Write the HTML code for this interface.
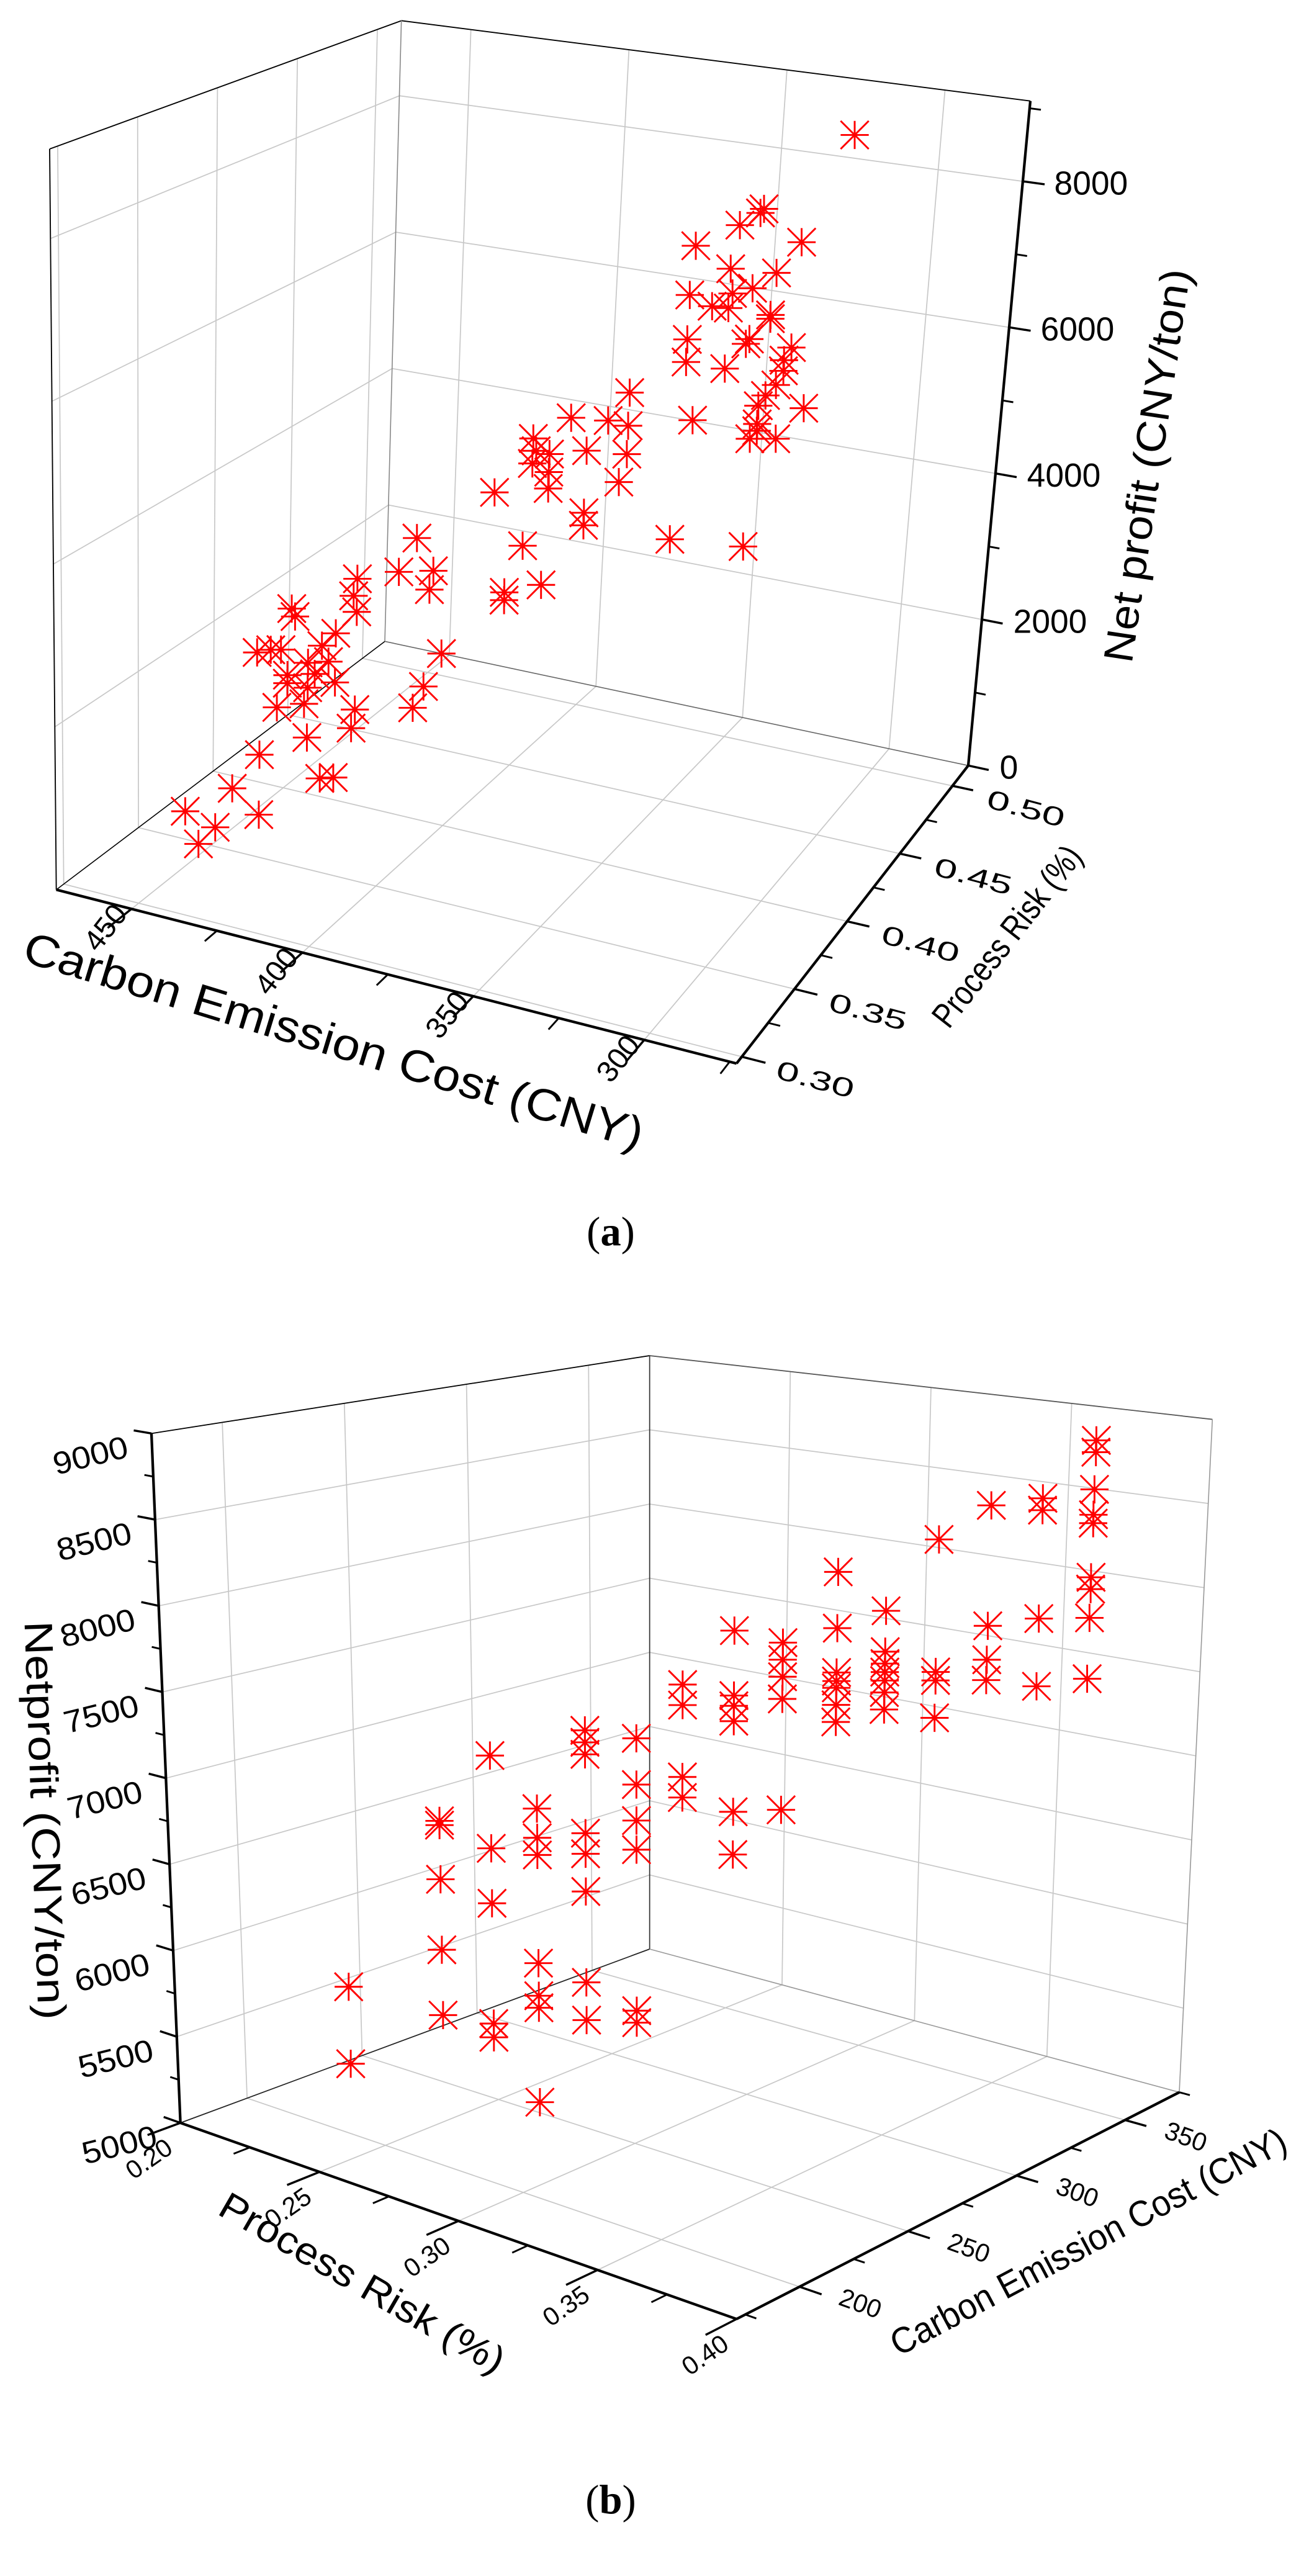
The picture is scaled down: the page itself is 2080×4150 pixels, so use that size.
<!DOCTYPE html>
<html><head><meta charset="utf-8"><style>
html,body{margin:0;padding:0;background:#fff;}
body{width:2080px;height:4150px;position:relative;overflow:hidden;}
svg{position:absolute;left:0;overflow:visible;}
text{font-family:"Liberation Sans",sans-serif;fill:#000;}
.cap{font-family:"Liberation Serif",serif;}
</style></head><body>
<svg id="chartA" style="top:0" width="2080" height="2000" viewBox="0 0 1560 1500"></svg>
<svg id="chartB" style="top:2000px" width="2080" height="2150" viewBox="0 0 1560 1612.5"></svg>
<script>
// ---------- Chart A data ----------
const costA = [386,391,381,382,403,404,403,422,421,409,413,432,428,425,417,411,423,415,409,417,423,418,426,403,404,417,378,383,386,431,439,453,444,449,431,413,409,
346,352,363,346,374,373,369,374,358,346,369,385,369,348,358,358,376,381,381,370,
329,330,336,349,317,338,324,350,343,337,338,331,325,325,350,332,331,318,320,350,338,320,322,325,327,313,347,327,327,329,321,352,329,
319];
const riskA = [0.339,0.339,0.339,0.339,0.339,0.339,0.339,0.339,0.339,0.339,0.339,0.339,0.339,0.339,0.339,0.339,0.339,0.339,0.339,0.339,0.339,0.339,0.339,0.339,0.339,0.339,0.339,0.339,0.339,0.339,0.339,0.339,0.339,0.339,0.339,0.339,0.339,
0.394,0.394,0.394,0.394,0.394,0.394,0.394,0.394,0.394,0.394,0.394,0.394,0.394,0.394,0.394,0.394,0.394,0.394,0.394,0.394,
0.449,0.449,0.449,0.449,0.449,0.449,0.449,0.449,0.449,0.449,0.449,0.449,0.449,0.449,0.449,0.449,0.449,0.449,0.449,0.449,0.449,0.449,0.449,0.449,0.449,0.449,0.449,0.449,0.449,0.449,0.449,0.449,0.449,
0.493];
const profitA = [4590,4130,4230,3990,3940,3720,3530,3400,3310,3210,3020,2760,2830,2860,2770,2840,2560,2650,2600,2460,2460,2250,2130,2320,2080,1840,3240,2790,2500,1490,990,560,450,190,740,1370,1420,
6100,5700,5650,5680,5300,5150,5140,4980,5270,5320,4910,4520,4700,4950,4480,4320,3910,3270,3170,3460,
8000,7940,7740,7380,7640,7150,7190,6720,6620,6830,6630,6940,6580,6630,6130,6200,6270,6250,6070,5830,5830,5930,5730,5570,5420,5490,5080,5180,5090,4970,5030,3460,3550,
8600];
const costTicksA = [450,400,350,300];
const costMinorA = [425,375,325,275];
const riskTicksA = [0.30,0.35,0.40,0.45,0.50];
const riskMinorA = [0.325,0.375,0.425,0.475];
const profitTicksA = [0,2000,4000,6000,8000];
const profitMinorA = [1000,3000,5000,7000,9000];
const riskLabelsA = ["0.30","0.35","0.40","0.45","0.50"];

// ---------- Chart B data ----------
const riskB = [0.234,0.234,
0.252,0.252,0.252,0.252,0.252,
0.262,0.262,0.262,0.262,0.262,
0.271,0.271,0.271,0.271,0.271,0.271,0.271,
0.280,0.280,0.280,0.280,0.280,0.280,0.280,0.280,
0.290,0.290,0.290,0.290,0.290,0.290,
0.299,0.299,0.299,0.299,
0.309,0.309,0.309,0.309,0.309,0.309,
0.318,0.318,0.318,0.318,0.318,
0.329,0.329,0.329,0.329,0.329,0.329,0.329,
0.338,0.338,0.338,0.338,0.338,0.338,0.338,
0.348,0.348,0.348,0.348,
0.358,0.358,0.358,0.358,
0.368,0.368,0.368,0.368,
0.378,0.378,0.378,0.378,0.378,0.378,0.378,0.378,0.378];
const costB = [205,205,
224,224,224,224,224,
234,234,234,234,234,
243,243,243,243,243,243,243,
253,253,253,253,253,253,253,253,
263,263,263,263,263,263,
272,272,272,272,
282,282,282,282,282,282,
292,292,292,292,292,
302,302,302,302,302,302,302,
312,312,312,312,312,312,312,
322,322,322,322,
332,332,332,332,
342,342,342,342,
352,352,352,352,352,352,352,352,352];
const profitB = [5807,5360,
6770,6745,6430,6020,5640,
7150,6610,6290,5590,5510,
6840,6670,6570,5940,5750,5680,5130,
7290,7220,7150,6690,6570,6350,5820,5600,
7240,6970,6760,6590,5650,5580,
7550,7430,7010,6890,
7860,7480,7420,7330,6800,6550,
7780,7680,7580,7450,6800,
8190,7860,7600,7550,7510,7410,7310,
7950,7710,7640,7590,7540,7470,7370,
8360,7580,7530,7310,
8550,7840,7640,7520,
8580,8510,7870,7470,
8910,8840,8620,8470,8420,8100,8030,7860,7500];
const riskTicksB = [0.20,0.25,0.30,0.35,0.40];
const riskMinorB = [0.225,0.275,0.325,0.375];
const riskLabelsB = ["0.20","0.25","0.30","0.35","0.40"];
const costTicksB = [200,250,300,350];
const costMinorB = [175,225,275,325,375];
const profitTicksB = [5000,5500,6000,6500,7000,7500,8000,8500,9000];
const profitMinorB = [5250,5750,6250,6750,7250,7750,8250,8750];

const NS = "http://www.w3.org/2000/svg";
function mk(parent, tag, attrs){
  const e = document.createElementNS(NS, tag);
  for (const k in attrs) e.setAttribute(k, attrs[k]);
  parent.appendChild(e);
  return e;
}
function bil(q,u,v){
  return [(1-u)*(1-v)*q[0][0]+u*(1-v)*q[1][0]+u*v*q[2][0]+(1-u)*v*q[3][0],
          (1-u)*(1-v)*q[0][1]+u*(1-v)*q[1][1]+u*v*q[2][1]+(1-u)*v*q[3][1]];
}
function makeProj(floor, top){
  return function(u,v,w){
    const b = bil(floor,u,v), t = bil(top,u,v);
    return [b[0]+(t[0]-b[0])*w, b[1]+(t[1]-b[1])*w];
  };
}
function line(g, p, q, stroke, sw){
  return mk(g,'line',{x1:p[0].toFixed(1),y1:p[1].toFixed(1),x2:q[0].toFixed(1),y2:q[1].toFixed(1),stroke:stroke,'stroke-width':sw,'stroke-linecap':'butt'});
}
function star(g, p){
  const s = 17, x=p[0], y=p[1];
  const d = `M${x-s},${y}L${x+s},${y}M${x},${y-s}L${x},${y+s}M${x-s},${y-s}L${x+s},${y+s}M${x-s},${y+s}L${x+s},${y-s}`;
  return mk(g,'path',{d:d,stroke:'#ff0000','stroke-width':2.2,fill:'none'});
}
function txt(g, x, y, s, size, rot, anchor, extra){
  const t = mk(g,'text',{x:0,y:0,'font-size':size,'text-anchor':anchor||'middle',transform:`translate(${x.toFixed(1)},${y.toFixed(1)}) rotate(${rot})`});
  if (extra) for (const k in extra) t.setAttribute(k, extra[k]);
  t.textContent = s;
  return t;
}

// ================= Chart A =================
(function(){
  const svg = document.getElementById('chartA');
  const P = makeProj([[68,1075],[890,1285],[1170,925],[465,775]],[[60,180],[940,325],[1245,122],[485,25]]);
  const uOf = c => (472-c)/199, vOf = r => (r-0.295)/0.22, wOf = p => p/9100;
  const GRID = '#c8c8c8';
  const grid = mk(svg,'g',{});
  
  
  riskTicksA.forEach(r=>{ const v=vOf(r); line(grid,P(0,v,0),P(0,v,1),GRID,1.3); line(grid,P(0,v,0),P(1,v,0),GRID,1.3); });
  costTicksA.forEach(c=>{ const u=uOf(c); line(grid,P(u,1,0),P(u,1,1),GRID,1.3); line(grid,P(u,0,0),P(u,1,0),GRID,1.3); });
  profitTicksA.forEach(p=>{ if(p===0) return; const w=wOf(p); line(grid,P(0,0,w),P(0,1,w),GRID,1.3); line(grid,P(0,1,w),P(1,1,w),GRID,1.3); });
  const box = mk(svg,'g',{});
  
  
  line(box,P(0,0,0),P(0,0,1),'#000',1.4);
  line(box,P(0,0,1),P(0,1,1),'#000',1.4);
  line(box,P(0,1,1),P(1,1,1),'#000',1.4);
  line(box,P(0,1,0),P(0,1,1),'#888',1.2);
  line(box,P(0,0,0),P(0,1,0),'#000',1.2);
  line(box,P(0,1,0),P(1,1,0),'#666',1.2);
  const ax = mk(svg,'g',{});
  
  
  const xa = line(ax,P(0,0,0),P(1,0,0),'#000',3.2);
  
  
  const ya = line(ax,P(1,0,0),P(1,1,0),'#000',3.2);
  
  
  const za = line(ax,P(1,1,0),P(1,1,1),'#000',3.2);
  
  
  costTicksA.forEach(c=>{ const u=uOf(c); line(ax,P(u,0,0),P(u,-0.075,0),'#000',2.6); });
  costMinorA.forEach(c=>{ const u=uOf(c); line(ax,P(u,0,0),P(u,-0.04,0),'#000',2.2); });
  riskTicksA.forEach(r=>{ const v=vOf(r); line(ax,P(1,v,0),P(1.035,v,0),'#000',2.6); });
  riskMinorA.forEach(r=>{ const v=vOf(r); line(ax,P(1,v,0),P(1.018,v,0),'#000',2.2); });
  profitTicksA.forEach(p=>{ const w=wOf(p); line(ax,P(1,1,w),P(1.035,1,w),'#000',2.6); });
  profitMinorA.forEach(p=>{ const w=wOf(p); line(ax,P(1,1,w),P(1.018,1,w),'#000',2.2); });
  const lab = mk(svg,'g',{});
  
  
  profitTicksA.forEach(p=>{ const q=P(1,1,wOf(p)); const t=txt(lab,q[0]+38,q[1]+16,String(p),40,0,'start');
    
     });
  riskTicksA.forEach((r,i)=>{ const q=P(1,vOf(r),0); const t=txt(lab,q[0]+86,q[1]+38,riskLabelsA[i],32,15,'middle',{'textLength':96,'lengthAdjust':'spacingAndGlyphs'});
    
     });
  costTicksA.forEach(c=>{ const q=P(uOf(c),0,0); const t=txt(lab,q[0]-22,q[1]+30,String(c),36,-52,'middle');
    
     });
  const t1 = txt(svg,398,1275,'Carbon Emission Cost (CNY)',54,17,'middle',{'textLength':780,'lengthAdjust':'spacingAndGlyphs'});
  
  
  const t2 = txt(svg,1403,565,'Net profit (CNY/ton)',50,-81.5,'middle',{'textLength':480,'lengthAdjust':'spacingAndGlyphs'});
  
  
  const t3 = txt(svg,1228,1140,'Process Risk (%)',42,-52,'middle',{'textLength':265,'lengthAdjust':'spacingAndGlyphs'});
  
  
  const pts = mk(svg,'g',{});
  
  
  for (let i=0;i<costA.length;i++){
    const s = star(pts, P(uOf(costA[i]), vOf(riskA[i]), wOf(profitA[i])));
    
    
  }
  const cap = mk(svg,'text',{x:738,y:1505,'font-size':50,'text-anchor':'middle','class':'cap'});
  
  
  cap.innerHTML = '(<tspan font-weight="bold">a</tspan>)';
})();

// ================= Chart B =================
(function(){
  const svg = document.getElementById('chartB');
  const P = makeProj([[218,1065],[890,1302],[1425,1028],[785,855]],[[183,232],[895,357],[1465,215],[785,138]]);
  const uOf = r => (r-0.2)/0.2, vOf = c => (c-171)/204, wOf = p => (p-5000)/4000;
  const GRID = '#c8c8c8';
  const grid = mk(svg,'g',{});
  
  
  costTicksB.forEach(c=>{ const v=vOf(c); line(grid,P(0,v,0),P(0,v,1),GRID,1.3); line(grid,P(0,v,0),P(1,v,0),GRID,1.3); });
  riskTicksB.forEach(r=>{ const u=uOf(r); if(u<=0||u>=1) return; line(grid,P(u,1,0),P(u,1,1),GRID,1.3); line(grid,P(u,0,0),P(u,1,0),GRID,1.3); });
  profitTicksB.forEach(p=>{ const w=wOf(p); if(w<=0) return; line(grid,P(0,0,w),P(0,1,w),GRID,1.3); line(grid,P(0,1,w),P(1,1,w),GRID,1.3); });
  const box = mk(svg,'g',{});
  
  
  line(box,P(0,0,1),P(0,1,1),'#000',1.3);
  line(box,P(0,1,1),P(1,1,1),'#555',1.3);
  line(box,P(0,1,0),P(0,1,1),'#333',1.3);
  line(box,P(1,1,0),P(1,1,1),'#999',1.2);
  line(box,P(0,0,0),P(0,1,0),'#222',1.3);
  line(box,P(0,1,0),P(1,1,0),'#999',1.2);
  const ax = mk(svg,'g',{});
  
  
  const za = line(ax,P(0,0,0),P(0,0,1),'#000',3.2);
  
  
  const xa = line(ax,P(0,0,0),P(1,0,0),'#000',3.2);
  
  
  const ya = line(ax,P(1,0,0),P(1,1,0),'#000',3.2);
  
  
  profitTicksB.forEach(p=>{ const w=wOf(p); line(ax,P(0,0,w),P(-0.03,0,w),'#000',2.6); });
  profitMinorB.forEach(p=>{ const w=wOf(p); line(ax,P(0,0,w),P(-0.015,0,w),'#000',2.2); });
  riskTicksB.forEach(r=>{ const u=uOf(r); line(ax,P(u,0,0),P(u,-0.07,0),'#000',2.6); });
  riskMinorB.forEach(r=>{ const u=uOf(r); line(ax,P(u,0,0),P(u,-0.035,0),'#000',2.2); });
  costTicksB.forEach(c=>{ const v=vOf(c); line(ax,P(1,v,0),P(1.04,v,0),'#000',2.6); });
  costMinorB.forEach(c=>{ const v=vOf(c); line(ax,P(1,v,0),P(1.02,v,0),'#000',2.2); });
  const lab = mk(svg,'g',{});
  
  
  profitTicksB.forEach(p=>{ const q=P(0,0,wOf(p)); const t=txt(lab,q[0]-26,q[1]+28,String(p),38,-14,'end',{'textLength':92,'lengthAdjust':'spacingAndGlyphs'});
    
     });
  riskTicksB.forEach((r,i)=>{ const q=P(uOf(r),0,0); const t=txt(lab,q[0]-32,q[1]+52,riskLabelsB[i],31,-35,'middle');
    
     });
  costTicksB.forEach(c=>{ const q=P(1,vOf(c),0); const t=txt(lab,q[0]+70,q[1]+30,String(c),31,20,'middle');
    
     });
  const t1 = txt(svg,38,700,'Netprofit (CNY/ton)',48,88,'middle',{'textLength':482,'lengthAdjust':'spacingAndGlyphs'});
  
  
  const t2 = txt(svg,430,1272,'Process Risk (%)',46,30,'middle',{'textLength':390,'lengthAdjust':'spacingAndGlyphs'});
  
  
  const t3 = txt(svg,1322,1222,'Carbon Emission Cost (CNY)',44,-28,'middle',{'textLength':535,'lengthAdjust':'spacingAndGlyphs'});
  
  
  const pts = mk(svg,'g',{});
  
  
  for (let i=0;i<costB.length;i++){
    const s = star(pts, P(uOf(riskB[i]), vOf(costB[i]), wOf(profitB[i])));
    
    
  }
  const cap = mk(svg,'text',{x:738,y:1537,'font-size':50,'text-anchor':'middle','class':'cap'});
  
  
  cap.innerHTML = '(<tspan font-weight="bold">b</tspan>)';
})();
</script>
</body></html>
